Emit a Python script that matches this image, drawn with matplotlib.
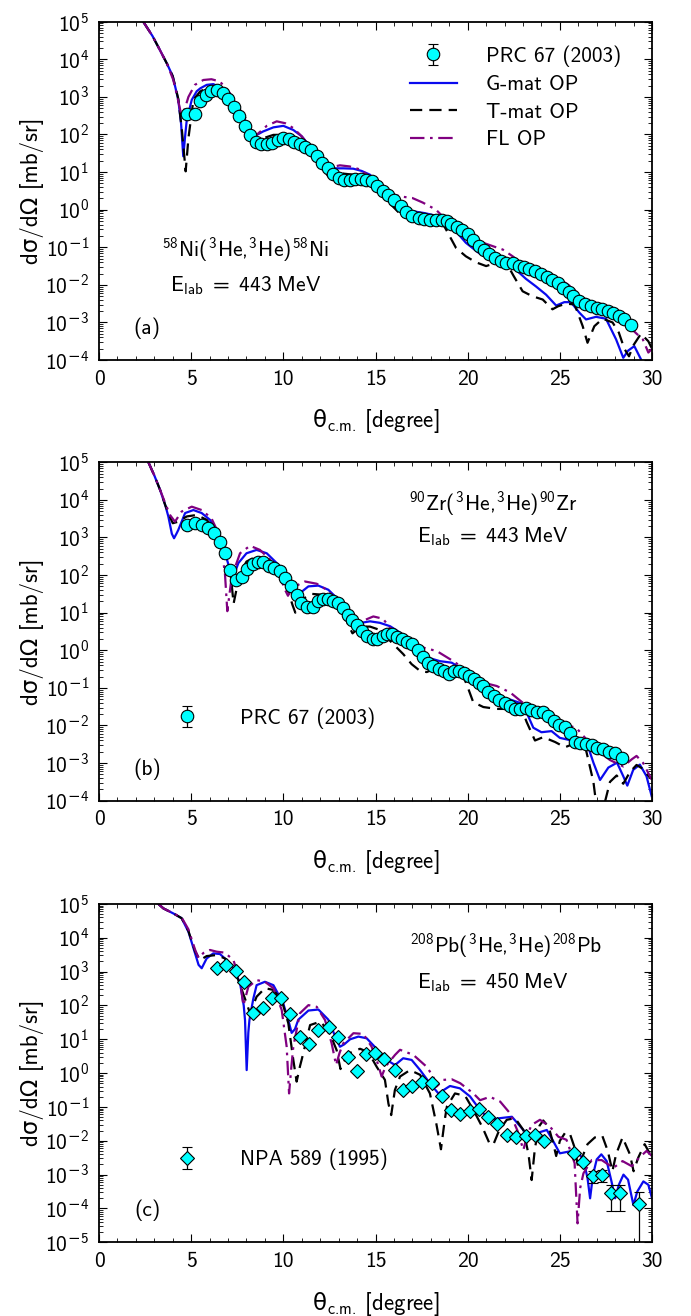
import numpy as np
import matplotlib
matplotlib.use('Agg')
import matplotlib.pyplot as plt
from matplotlib.ticker import LogLocator, MultipleLocator, NullFormatter, FuncFormatter

plt.rcParams['font.family'] = ['cmss10', 'DejaVu Sans']
plt.rcParams['mathtext.fontset'] = 'custom'
plt.rcParams['mathtext.rm'] = 'cmss10'
plt.rcParams['mathtext.it'] = 'cmss10'
plt.rcParams['mathtext.bf'] = 'cmss10'
plt.rcParams['mathtext.sf'] = 'DejaVu Sans'

# ---------------- (a) 58Ni, 443 MeV ----------------  (values are log10 of mb/sr)
ni_th = [4.76, 5.21, 5.5, 5.8, 6.1, 6.4, 6.7, 7.0, 7.3, 7.6, 7.9, 8.2, 8.5, 8.8, 9.1, 9.4, 9.7,
         10.0, 10.3, 10.6, 10.9, 11.2, 11.5, 11.8, 12.1, 12.4, 12.7, 13.0, 13.3, 13.6, 13.9,
         14.2, 14.5, 14.8, 15.06, 15.39, 15.7, 16.0, 16.38, 16.65, 16.98, 17.34, 17.65, 17.96,
         18.28, 18.6, 18.86, 19.1, 19.4, 19.7, 20.0, 20.3, 20.63, 20.9, 21.18, 21.5, 21.8, 22.1,
         22.44, 22.77, 23.07, 23.35, 23.67, 23.98, 24.29, 24.58, 24.88, 25.15, 25.48, 25.73,
         26.06, 26.38, 26.69, 27.0, 27.29, 27.6, 27.9, 28.19, 28.5, 28.86]
ni_lg = [2.55, 2.55, 2.88, 3.05, 3.17, 3.19, 3.10, 2.94, 2.74, 2.50, 2.23, 1.99, 1.81, 1.74, 1.74,
         1.77, 1.86, 1.90, 1.88, 1.81, 1.75, 1.68, 1.58, 1.43, 1.24, 1.11, 0.96, 0.84, 0.78, 0.80,
         0.82, 0.82, 0.80, 0.75, 0.64, 0.51, 0.40, 0.27, 0.11, -0.07, -0.18, -0.22, -0.25, -0.27,
         -0.28, -0.27, -0.31, -0.37, -0.46, -0.55, -0.66, -0.80, -0.96, -1.06, -1.17, -1.28, -1.37,
         -1.42, -1.43, -1.49, -1.52, -1.58, -1.64, -1.70, -1.79, -1.86, -1.96, -2.08, -2.19, -2.30,
         -2.43, -2.52, -2.57, -2.61, -2.65, -2.70, -2.74, -2.83, -2.90, -3.08]

ni_g_th = [2.4, 2.9, 3.3, 3.7, 4.0, 4.3, 4.45, 4.57, 4.68, 4.76, 5.03, 5.3, 5.5, 5.84, 6.2, 6.56,
           7.1, 7.65, 8.0, 8.37, 8.6, 8.9, 9.46, 10.0, 10.54, 11.0, 11.45, 11.9, 12.44, 12.8, 13.25,
           13.8, 14.25, 14.7, 15.15, 15.7, 16.1, 16.47, 17.0, 17.65, 18.28, 18.73, 19.37, 19.9,
           20.6, 21.36, 22.08, 22.6, 23.16, 23.7, 24.25, 24.8, 25.24, 25.6, 26.06, 26.42, 26.96,
           27.5, 28.05, 28.44, 28.7, 29.04, 29.4, 29.6]
ni_g_lg = [5.0, 4.62, 4.25, 3.87, 3.55, 2.92, 2.3, 1.42, 2.0, 2.39, 2.92, 3.15, 3.23, 3.32, 3.34,
           3.26, 3.0, 2.65, 2.30, 2.04, 2.0, 2.08, 2.19, 2.23, 2.12, 1.95, 1.68, 1.42, 1.15, 1.10,
           1.10, 1.09, 1.03, 0.93, 0.66, 0.35, 0.1, 0.0, -0.04, -0.09, -0.16, -0.25, -0.58, -0.88,
           -1.15, -1.33, -1.42, -1.59, -1.84, -2.04, -2.26, -2.55, -2.46, -2.46, -2.74, -2.92,
           -2.85, -2.90, -3.45, -3.94, -3.75, -3.63, -3.98, -4.2]

ni_t_th = [2.4, 2.9, 3.3, 3.7, 4.0, 4.3, 4.5, 4.7, 4.85, 5.12, 5.48, 5.93, 6.38, 6.93, 7.47, 8.0,
           8.3, 8.5, 8.7, 8.9, 9.46, 10.0, 10.54, 11.08, 11.63, 12.08, 12.44, 12.7, 13.25, 13.8,
           14.34, 14.88, 15.24, 15.39, 15.93, 16.47, 17.0, 17.65, 18.28, 18.73, 19.37, 19.9, 20.45,
           21.0, 21.5, 22.08, 22.5, 22.98, 23.5, 24.07, 24.6, 24.9, 25.33, 25.8, 26.24, 26.5, 26.87,
           27.32, 27.86, 28.2, 28.5, 28.75, 29.0, 29.4, 29.8, 30.0]
ni_t_lg = [5.0, 4.62, 4.25, 3.87, 3.55, 2.95, 2.1, 1.02, 1.9, 2.92, 3.14, 3.27, 3.26, 3.10, 2.79,
           2.39, 1.9, 1.64, 1.75, 1.9, 1.99, 1.99, 1.9, 1.73, 1.46, 1.15, 0.88, 0.93, 0.96, 0.93,
           0.84, 0.66, 0.44, 0.35, 0.09, -0.18, -0.13, -0.13, -0.18, -0.44, -1.02, -1.24, -1.40,
           -1.50, -1.42, -1.40, -1.77, -2.17, -2.30, -2.39, -2.65, -2.57, -2.50, -2.52, -3.1, -3.54,
           -3.1, -2.9, -3.0, -3.27, -3.7, -3.9, -3.6, -3.3, -3.5, -3.7]

ni_f_th = [2.4, 2.9, 3.3, 3.7, 4.03, 4.25, 4.45, 4.6, 4.85, 5.2, 5.66, 6.1, 6.56, 7.1, 7.56, 7.92,
           8.19, 8.55, 9.1, 9.64, 10.1, 10.54, 11.0, 11.4, 11.8, 12.26, 12.5, 13.07, 13.6, 14.16,
           14.5, 15.0, 15.6, 16.0, 16.38, 17.0, 17.56, 18.28, 18.82, 19.37, 19.9, 20.6, 21.36, 21.9,
           22.44, 22.98, 23.7, 24.4, 25.15, 25.7, 26.06, 26.6, 27.3, 28.0, 28.6, 29.1, 29.5, 29.8, 30.0]
ni_f_lg = [5.0, 4.62, 4.25, 3.87, 3.45, 3.0, 2.55, 2.6, 3.0, 3.32, 3.45, 3.47, 3.41, 3.10, 2.65,
           2.08, 1.86, 1.99, 2.23, 2.35, 2.30, 2.17, 1.95, 1.7, 1.46, 1.17, 1.12, 1.18, 1.15, 1.07,
           0.95, 0.75, 0.5, 0.4, 0.35, 0.31, 0.19, 0.0, -0.27, -0.51, -0.71, -0.84, -0.97, -1.06,
           -1.24, -1.46, -1.68, -1.81, -1.90, -2.08, -2.30, -2.43, -2.65, -2.92, -3.05, -3.27,
           -3.45, -3.8, -3.7]

# ---------------- (b) 90Zr, 443 MeV ----------------
zr_th = [4.76, 5.21, 5.57, 5.93, 6.24, 6.56, 6.83, 7.1, 7.41, 7.74, 8.05, 8.37, 8.64, 8.92, 9.22,
         9.51, 9.82, 10.09, 10.4, 10.72, 10.96, 11.27, 11.59, 11.9, 12.17, 12.44, 12.71, 12.98,
         13.22, 13.5, 13.75, 14.0, 14.25, 14.52, 14.85, 15.1, 15.39, 15.6, 15.88, 16.15, 16.42,
         16.73, 17.0, 17.32, 17.59, 17.86, 18.13, 18.44, 18.71, 19.0, 19.26, 19.55, 19.82, 20.09,
         20.34, 20.63, 20.85, 21.12, 21.43, 21.72, 22.02, 22.3, 22.57, 22.84, 23.15, 23.45, 23.74,
         24.07, 24.37, 24.68, 24.97, 25.28, 25.55, 25.82, 26.09, 26.42, 26.73, 27.03, 27.36,
         27.67, 27.97, 28.35]
zr_lg = [3.34, 3.38, 3.34, 3.25, 3.13, 2.89, 2.58, 2.14, 1.86, 1.96, 2.16, 2.30, 2.36, 2.34, 2.25,
         2.19, 2.10, 1.92, 1.70, 1.48, 1.26, 1.15, 1.15, 1.30, 1.36, 1.36, 1.32, 1.26, 1.12, 0.95,
         0.80, 0.66, 0.50, 0.39, 0.31, 0.31, 0.39, 0.42, 0.42, 0.36, 0.29, 0.22, 0.16, 0.02, -0.17,
         -0.33, -0.42, -0.49, -0.55, -0.63, -0.55, -0.55, -0.61, -0.68, -0.77, -0.87, -0.95, -1.11,
         -1.22, -1.31, -1.40, -1.49, -1.56, -1.56, -1.53, -1.58, -1.64, -1.65, -1.74, -1.88, -1.99,
         -2.03, -2.21, -2.44, -2.46, -2.48, -2.53, -2.59, -2.62, -2.71, -2.74, -2.86]

zr_g_th = [2.68, 3.0, 3.31, 3.6, 3.76, 3.95, 4.07, 4.2, 4.3, 4.67, 5.12, 5.57, 6.02, 6.38, 6.74,
           7.1, 7.29, 7.56, 8.0, 8.55, 9.1, 9.64, 10.18, 10.63, 10.9, 11.36, 11.9, 12.44, 12.98,
           13.44, 13.8, 14.34, 14.7, 15.24, 15.79, 16.33, 16.87, 17.42, 17.87, 18.5, 19.13, 19.58,
           20.13, 20.67, 21.2, 21.75, 22.3, 22.84, 23.2, 23.56, 24.0, 24.55, 25.0, 25.55, 26.0,
           26.46, 26.82, 27.18, 27.63, 28.1, 28.44, 28.66, 28.98, 29.34, 29.7, 29.98]
zr_g_lg = [5.0, 4.65, 4.27, 3.85, 3.56, 3.1, 2.98, 3.1, 3.2, 3.65, 3.73, 3.65, 3.47, 3.2, 2.76,
           2.14, 1.96, 2.32, 2.58, 2.67, 2.58, 2.32, 1.96, 1.61, 1.52, 1.70, 1.72, 1.61, 1.35, 0.95,
           0.77, 0.74, 0.77, 0.73, 0.64, 0.47, 0.29, 0.02, -0.2, -0.29, -0.33, -0.46, -0.77, -1.04,
           -1.22, -1.31, -1.31, -1.40, -1.66, -2.06, -2.18, -2.15, -2.33, -2.39, -2.33, -2.46, -2.99,
           -3.45, -3.12, -2.99, -3.35, -3.6, -3.18, -3.04, -3.35, -3.88]

zr_t_th = [2.68, 3.0, 3.31, 3.6, 3.76, 4.0, 4.3, 4.76, 5.3, 5.84, 6.3, 6.74, 7.1, 7.3, 7.45, 7.56,
           8.0, 8.55, 9.1, 9.64, 10.18, 10.5, 10.65, 10.8, 11.0, 11.54, 12.08, 12.71, 13.25, 13.5,
           13.75, 14.0, 14.16, 14.7, 15.24, 15.79, 16.5, 16.96, 17.42, 17.78, 18.32, 19.04, 19.58,
           19.94, 20.3, 20.85, 21.57, 22.3, 22.84, 23.2, 23.65, 24.1, 24.74, 25.28, 25.73, 26.36,
           26.82, 27.0, 27.36, 27.72, 28.08, 28.44, 28.8, 29.16, 29.52, 29.9]
zr_t_lg = [5.0, 4.65, 4.27, 3.85, 3.65, 3.38, 3.42, 3.56, 3.6, 3.47, 3.2, 2.76, 2.23, 1.24, 1.6,
           1.96, 2.36, 2.5, 2.41, 2.23, 1.70, 1.2, 1.0, 1.2, 1.35, 1.5, 1.48, 1.35, 1.04, 0.7, 0.45,
           0.55, 0.63, 0.63, 0.54, 0.25, -0.1, -0.37, -0.55, -0.58, -0.46, -0.50, -0.50, -0.90,
           -1.38, -1.51, -1.56, -1.56, -1.45, -1.91, -2.40, -2.31, -2.44, -2.58, -2.49, -2.53, -3.5,
           -4.2, -4.2, -3.5, -3.33, -3.55, -3.24, -3.05, -3.16, -3.4]

zr_f_th = [2.68, 3.0, 3.31, 3.6, 3.85, 4.12, 4.48, 5.03, 5.57, 6.1, 6.56, 6.83, 6.96, 7.08, 7.2,
           7.65, 8.19, 8.73, 9.28, 9.82, 10.1, 10.25, 10.4, 10.63, 11.17, 11.81, 12.35, 12.89,
           13.53, 13.8, 14.25, 14.88, 15.4, 15.79, 16.33, 17.05, 17.6, 18.32, 19.22, 20.13, 20.85,
           21.57, 22.3, 23.0, 23.74, 24.46, 25.19, 25.9, 26.46, 27.0, 27.72, 28.44, 28.9, 29.16,
           29.52, 29.98]
zr_f_lg = [5.0, 4.65, 4.27, 3.9, 3.6, 3.42, 3.69, 3.82, 3.73, 3.51, 3.03, 2.05, 1.04, 1.5, 1.96,
           2.58, 2.78, 2.67, 2.41, 1.96, 1.6, 1.45, 1.6, 1.70, 1.83, 1.77, 1.61, 1.35, 0.77, 0.63,
           0.77, 0.9, 0.84, 0.6, 0.38, 0.16, 0.07, -0.02, -0.29, -0.6, -0.86, -0.95, -1.12, -1.4,
           -1.62, -1.85, -1.95, -2.07, -2.38, -2.65, -2.92, -3.09, -2.9, -2.81, -3.0, -3.44]

# ---------------- (c) 208Pb, 450 MeV ----------------
pb_th = [6.38, 6.89, 7.41, 7.88, 8.37, 8.88, 9.37, 9.87, 10.36, 10.9, 11.39, 11.9, 12.5, 12.98,
         13.49, 14.0, 14.48, 14.97, 15.48, 16.04, 16.51, 17.0, 17.5, 18.05, 18.6, 19.1, 19.6, 20.1,
         20.62, 21.12, 21.6, 22.12, 22.62, 23.14, 23.65, 24.14, 25.77, 26.28, 26.78, 27.29, 27.76,
         28.27, 29.31]
pb_lg = [3.10, 3.20, 3.03, 2.70, 1.79, 1.92, 2.21, 2.21, 1.74, 1.06, 0.86, 1.28, 1.35, 1.06, 0.49,
         0.06, 0.57, 0.59, 0.41, 0.10, -0.51, -0.37, -0.25, -0.30, -0.67, -1.09, -1.20, -1.11,
         -1.07, -1.29, -1.49, -1.83, -1.88, -1.86, -1.83, -2.02, -2.37, -2.62, -3.04, -3.01, -3.55,
         -3.55, -3.87]
pb_err = [None] * 38 + [3.6e-4, 3.6e-4, 2.0e-4, 2.0e-4, 1.8e-4]   # absolute errors, mb/sr

pb_g_th = [3.22, 3.49, 4.03, 4.48, 4.85, 5.21, 5.4, 5.57, 5.84, 6.2, 6.56, 6.93, 7.29, 7.65, 7.85,
           7.92, 8.01, 8.1, 8.16, 8.37, 8.55, 9.0, 9.46, 9.99, 10.3, 10.45, 10.63, 10.81, 11.36,
           11.9, 12.44, 12.8, 13.07, 13.3, 13.62, 14.07, 14.52, 15.06, 15.6, 16.06, 16.5, 16.96,
           17.42, 17.95, 18.41, 19.04, 19.58, 20.13, 20.67, 21.21, 21.76, 22.4, 22.86, 23.4, 23.83,
           24.29, 24.65, 25.0, 25.47, 25.9, 26.28, 26.5, 26.64, 26.8, 27.0, 27.25, 27.54, 27.8,
           28.0, 28.2, 28.45, 28.7, 28.99, 29.2, 29.53, 29.8, 30.0]
pb_g_lg = [5.0, 4.87, 4.72, 4.58, 4.18, 3.54, 3.2, 3.1, 3.39, 3.54, 3.52, 3.34, 3.1, 2.66, 2.0,
           1.57, 0.09, 1.2, 1.57, 2.2, 2.6, 2.7, 2.6, 2.07, 1.5, 1.19, 1.3, 1.58, 1.85, 1.88, 1.58,
           1.1, 0.78, 0.85, 1.0, 1.08, 1.03, 0.72, 0.39, 0.24, 0.44, 0.39, 0.09, -0.3, -0.6, -0.38,
           -0.45, -0.69, -1.09, -1.38, -1.33, -1.29, -1.58, -1.93, -1.76, -1.68, -2.02, -2.37,
           -2.32, -2.27, -2.57, -3.1, -3.7, -3.0, -2.55, -2.4, -2.6, -3.2, -3.7, -3.3, -3.0, -3.15,
           -3.9, -3.5, -3.2, -3.3, -3.7]

pb_t_th = [3.22, 3.49, 4.03, 4.48, 4.85, 5.21, 5.48, 5.84, 6.38, 6.83, 7.29, 7.56, 8.01, 8.19,
           8.55, 9.0, 9.46, 9.91, 10.27, 10.54, 10.72, 10.9, 10.99, 11.45, 11.99, 12.44, 12.89,
           13.1, 13.3, 13.62, 14.16, 14.61, 15.06, 15.51, 15.7, 15.85, 16.05, 16.33, 16.87, 17.42,
           17.95, 18.3, 18.55, 18.75, 18.87, 19.31, 19.86, 20.31, 20.8, 21.2, 21.4, 21.7, 22.12,
           22.57, 23.02, 23.3, 23.47, 23.65, 23.9, 24.1, 24.4, 24.65, 24.8, 25.0, 25.3, 25.55,
           25.8, 26.0, 26.2, 26.5, 26.9, 27.3, 27.6, 27.85, 28.05, 28.4, 28.8, 29.0, 29.25, 29.6, 30.0]
pb_t_lg = [5.0, 4.87, 4.72, 4.58, 4.2, 3.6, 3.34, 3.46, 3.49, 3.39, 3.05, 2.75, 2.06, 1.77, 2.26,
           2.51, 2.46, 2.16, 1.47, 0.39, -0.25, 0.2, 0.39, 1.42, 1.52, 1.28, 0.68, 0.12, 0.35, 0.6,
           0.72, 0.62, 0.19, -0.2, -0.9, -1.24, -0.5, -0.1, 0.09, -0.05, -0.6, -1.5, -2.25, -1.4,
           -0.99, -0.6, -0.67, -1.09, -1.6, -2.1, -2.1, -1.7, -1.38, -1.33, -1.68, -2.4, -3.16,
           -2.2, -1.55, -1.4, -1.6, -2.1, -2.45, -2.0, -1.75, -1.8, -2.2, -2.8, -2.5, -2.1, -1.9,
           -1.85, -2.3, -2.9, -2.4, -1.9, -2.4, -2.9, -2.5, -2.1, -2.5]

pb_f_th = [3.22, 3.49, 4.03, 4.48, 4.85, 5.21, 5.4, 5.66, 6.02, 6.38, 6.83, 7.29, 7.65, 7.83,
           8.1, 8.55, 9.0, 9.46, 9.91, 10.18, 10.31, 10.42, 10.54, 10.9, 11.36, 11.81, 12.26, 12.62,
           12.86, 13.05, 13.25, 13.8, 14.34, 14.79, 15.15, 15.33, 15.55, 16.06, 16.33, 17.05,
           17.77, 18.13, 18.3, 18.5, 18.68, 19.13, 19.6, 20.31, 20.67, 21.21, 21.76, 22.3, 22.7,
           23.02, 23.25, 23.47, 23.92, 24.46, 24.92, 25.36, 25.8, 25.96, 26.1, 26.28, 26.73, 27.27,
           27.9, 28.4, 28.9, 29.3, 29.7, 30.0]
pb_f_lg = [5.0, 4.87, 4.72, 4.6, 4.25, 3.65, 3.4, 3.55, 3.64, 3.59, 3.56, 3.34, 2.75, 2.0, 2.55,
           2.75, 2.7, 2.51, 1.87, 0.78, -0.6, 0.1, 0.78, 1.77, 2.01, 1.96, 1.57, 0.88, 0.24, 0.6,
           0.88, 1.18, 1.16, 0.78, 0.24, -0.1, 0.2, 0.54, 0.69, 0.54, 0.19, -0.1, -0.4, -0.3, -0.2,
           -0.18, -0.3, -0.6, -0.8, -0.7, -0.84, -1.19, -1.7, -2.27, -1.8, -1.53, -1.38, -1.58,
           -1.88, -1.97, -2.66, -4.44, -3.4, -2.96, -2.57, -2.57, -2.8, -2.6, -2.75, -2.5, -2.3, -2.45]

panels = [
    dict(th=ni_th, lg=ni_lg, err=None, g=(ni_g_th, ni_g_lg), t=(ni_t_th, ni_t_lg), f=(ni_f_th, ni_f_lg),
         marker='o', ms=9, ylim=(1e-4, 1e5), tag='(a)', data_label='PRC 67 (2003)',
         reac=r'$^{58}$Ni($^{3}$He,$^{3}$He)$^{58}$Ni', elab=r'$\mathrm{E_{lab}\ =\ 443\ MeV}$',
         reac_xy=(0.265, 0.325), elab_xy=(0.265, 0.22)),
    dict(th=zr_th, lg=zr_lg, err=None, g=(zr_g_th, zr_g_lg), t=(zr_t_th, zr_t_lg), f=(zr_f_th, zr_f_lg),
         marker='o', ms=9, ylim=(1e-4, 1e5), tag='(b)', data_label='PRC 67 (2003)',
         reac=r'$^{90}$Zr($^{3}$He,$^{3}$He)$^{90}$Zr', elab=r'$\mathrm{E_{lab}\ =\ 443\ MeV}$',
         reac_xy=(0.712, 0.874), elab_xy=(0.712, 0.78)),
    dict(th=pb_th, lg=pb_lg, err=pb_err, g=(pb_g_th, pb_g_lg), t=(pb_t_th, pb_t_lg), f=(pb_f_th, pb_f_lg),
         marker='D', ms=7.5, ylim=(1e-5, 1e5), tag='(c)', data_label='NPA 589 (1995)',
         reac=r'$^{208}$Pb($^{3}$He,$^{3}$He)$^{208}$Pb', elab=r'$\mathrm{E_{lab}\ =\ 450\ MeV}$',
         reac_xy=(0.736, 0.873), elab_xy=(0.712, 0.77)),
]


def decade_label(v, pos):
    e = int(round(np.log10(v)))
    if e < 0:
        return r'$\mathrm{10}^{\mathsf{-}\mathrm{%d}}$' % (-e)
    return r'$\mathrm{10}^{\mathrm{%d}}$' % e


fig = plt.figure(figsize=(6.91, 13.16), dpi=100)
rects = [[0.1433, 0.7264, 0.8003, 0.2571],
         [0.1433, 0.3916, 0.8003, 0.2571],
         [0.1433, 0.0560, 0.8003, 0.2571]]

for k, (p, r) in enumerate(zip(panels, rects)):
    ax = fig.add_axes(r)
    ax.set_yscale('log')

    hg, = ax.plot(p['g'][0], np.power(10.0, p['g'][1]), color='#0a0aee', lw=1.6, label='G-mat OP')
    ht, = ax.plot(p['t'][0], np.power(10.0, p['t'][1]), color='black', lw=1.6,
                  dashes=(5.5, 3.2), label='T-mat OP')
    hf, = ax.plot(p['f'][0], np.power(10.0, p['f'][1]), color='#800080', lw=1.6,
                  dashes=(6.5, 2.5, 1.2, 2.5), label='FL OP')

    y = np.power(10.0, p['lg'])
    if p['err'] is None:
        yerr = 0.1 * y
    else:
        yerr = np.array([0.1 * v if e is None else e for v, e in zip(y, p['err'])])
    hd = ax.errorbar(p['th'], y, yerr=yerr, fmt=p['marker'], ms=p['ms'], mfc='cyan', mec='black',
                     mew=0.8, ecolor='black', elinewidth=0.9, capsize=3.5, capthick=0.9,
                     zorder=5, label=p['data_label'])

    ax.set_xlim(0, 30)
    ax.set_ylim(*p['ylim'])
    ax.xaxis.set_major_locator(MultipleLocator(5))
    ax.xaxis.set_minor_locator(MultipleLocator(1))
    ax.yaxis.set_major_locator(LogLocator(base=10, numticks=30))
    ax.yaxis.set_minor_locator(LogLocator(base=10, subs=np.arange(2, 10), numticks=30))
    ax.yaxis.set_major_formatter(FuncFormatter(decade_label))
    ax.yaxis.set_minor_formatter(NullFormatter())
    ax.tick_params(which='both', direction='in', top=True, right=True, labelsize=15.5)
    ax.tick_params(which='major', length=6, width=0.8, pad=7)
    ax.tick_params(which='minor', length=3, width=0.6)
    for s in ax.spines.values():
        s.set_linewidth(1.3)

    ax.set_xlabel(r'$\mathsf{\theta}_{\text{c.m.}}$ [degree]', fontsize=16.5)
    ax.set_ylabel('dσ/dΩ [mb/sr]', fontsize=16.5)
    ax.xaxis.set_label_coords(0.5, -0.14)
    ax.yaxis.set_label_coords(-0.10, 0.5)

    ax.text(*p['reac_xy'], p['reac'], transform=ax.transAxes, ha='center', va='center', fontsize=15.5)
    ax.text(*p['elab_xy'], p['elab'], transform=ax.transAxes, ha='center', va='center', fontsize=15.5)
    ax.text(0.087, 0.094, p['tag'], transform=ax.transAxes, ha='center', va='center', fontsize=15.5)

    if k == 0:
        ax.legend([hd, hg, ht, hf], [p['data_label'], 'G-mat OP', 'T-mat OP', 'FL OP'],
                  loc='upper right', bbox_to_anchor=(0.945, 0.93), frameon=False, fontsize=15.3,
                  handlelength=2.2, handletextpad=1.4, labelspacing=0.4, borderpad=0,
                  borderaxespad=0)
    else:
        ax.legend([hd], [p['data_label']], loc='center left', bbox_to_anchor=(0.1175, 0.244),
                  frameon=False, fontsize=15.3, handlelength=2.2, handletextpad=1.4,
                  borderpad=0, borderaxespad=0)

fig.savefig('out.png', dpi=100)
